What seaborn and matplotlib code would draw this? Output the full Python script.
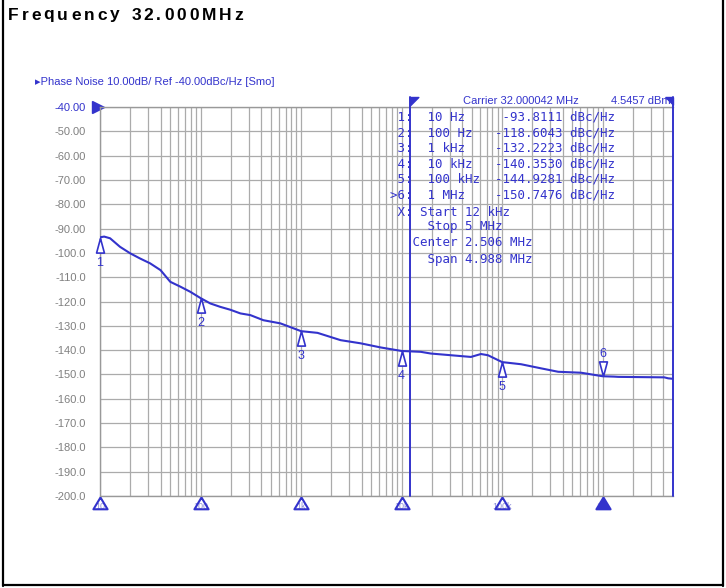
import numpy as np
import pandas as pd
import seaborn as sns
import matplotlib.pyplot as plt
from matplotlib.lines import Line2D
from matplotlib.path import Path
from matplotlib.ticker import LogLocator, NullFormatter, FixedLocator

# Phase noise trace
freq_hz = [10, 11, 12.6, 15.8, 20, 25, 31.5, 40, 50, 63, 79, 100, 125, 157, 198, 249,
           313, 422, 623, 1000, 1457, 2470, 3910, 6190, 10000, 15500, 19500, 30900,
           48900, 61500, 72200, 100000, 154000, 244000, 360000, 611000, 1000000,
           1300000, 1430000, 4100000, 4480000, 5000000]
noise_dbc = [-93.6, -93.3, -94.0, -97.5, -100.2, -102.3, -104.3, -107.1, -111.9, -113.9,
             -116.0, -118.6, -120.8, -122.2, -123.4, -124.9, -125.6, -127.7, -129.0,
             -132.2, -132.9, -135.9, -137.2, -138.9, -140.35, -140.7, -141.4, -142.1,
             -142.8, -141.6, -142.1, -144.93, -145.8, -147.5, -148.9, -149.3, -150.75,
             -150.9, -151.0, -151.2, -151.6, -151.8]

# Markers
marker_freq = [10, 100, 1000, 10000, 100000, 1000000]
marker_freq_label = ["10 Hz", "100 Hz", "1 kHz", "10 kHz", "100 kHz", "1 MHz"]
marker_level = [-93.8111, -118.6043, -132.2223, -140.3530, -144.9281, -150.7476]
bottom_tick_label = ["10", "100", "1k", "10k", "100k", "1M"]

y_ticks = list(range(-40, -201, -10))
span_start, span_stop = 12e3, 5e6

W, H = 726, 588
BLUE = "#3333cc"
GRID = "#ababab"


def px(x, y):
    return x / W, 1 - y / H


sns.set_style("white")
plt.rcParams["font.family"] = ["Liberation Sans", "DejaVu Sans"]

fig = plt.figure(figsize=(W / 100, H / 100), dpi=100)
ax = fig.add_axes([100 / W, 1 - 496 / H, 573 / W, 389 / H])

df = pd.DataFrame({"freq": freq_hz, "level": noise_dbc})
sns.lineplot(data=df, x="freq", y="level", ax=ax, color=BLUE, lw=1.5, zorder=4)

ax.set_xscale("log")
ax.set_xlim(10, 5e6)
ax.set_ylim(-200, -40)
ax.xaxis.set_major_locator(LogLocator(base=10, numticks=20))
ax.xaxis.set_minor_locator(LogLocator(base=10, subs=np.arange(2, 10), numticks=100))
ax.xaxis.set_major_formatter(NullFormatter())
ax.xaxis.set_minor_formatter(NullFormatter())
ax.yaxis.set_major_locator(FixedLocator(y_ticks))
ax.set_yticklabels([f"{v:.2f}" if v > -100 else f"{v:.1f}" for v in y_ticks])
ax.tick_params(axis="both", which="both", length=0)
ax.tick_params(axis="y", labelsize=8, labelcolor="#808080", pad=10)
ax.get_yticklabels()[0].set_color(BLUE)
ax.grid(True, which="both", axis="x", color=GRID, lw=0.9)
ax.grid(True, which="major", axis="y", color=GRID, lw=0.9)
ax.set_xlabel("")
ax.set_ylabel("")
for side in ["left", "top", "bottom"]:
    ax.spines[side].set_color("#999999")
    ax.spines[side].set_linewidth(1.0)
ax.spines["right"].set_visible(False)

# span lines
for f in (span_start, span_stop):
    ax.axvline(f, ymin=0, ymax=1.026, color=BLUE, lw=1.4, clip_on=False, zorder=5)
flag_r = Path([(0, 0), (1, 0), (0, -1), (0, 0)])
flag_l = Path([(0, 0), (-1, 0), (0, -1), (0, 0)])
xt = ax.get_xaxis_transform()
ax.plot([span_start], [1.026], marker=flag_r, ms=12, color=BLUE, transform=xt, clip_on=False)
ax.plot([span_stop], [1.026], marker=flag_l, ms=11, color=BLUE, transform=xt, clip_on=False)

# reference level arrow
ax.plot([-0.004], [1.0], marker=">", ms=9, color=BLUE, transform=ax.transAxes, clip_on=False)

# markers on the trace
tri_up = Path([(0, 0), (-0.27, -1), (0.27, -1), (0, 0)])
tri_dn = Path([(0, 0), (-0.27, 1), (0.27, 1), (0, 0)])
for i, (f, lv) in enumerate(zip(marker_freq, marker_level), start=1):
    if i < 6:
        ax.plot([f], [lv], marker=tri_up, ms=21, mfc="white", mec=BLUE, mew=1.2, zorder=6,
                clip_on=False)
        ax.annotate(str(i), (f, lv), xytext=(0, -18), textcoords="offset points",
                    ha="center", va="center", color=BLUE, fontsize=9)
    else:
        ax.plot([f], [lv], marker=tri_dn, ms=21, mfc="white", mec=BLUE, mew=1.2, zorder=6)
        ax.annotate(str(i), (f, lv), xytext=(0, 16), textcoords="offset points",
                    ha="center", va="center", color=BLUE, fontsize=9)

# marker flags below the x axis
tri_base = Path([(0, 0), (-0.6, -1), (0.6, -1), (0, 0)])
for i, (f, lab) in enumerate(zip(marker_freq, bottom_tick_label), start=1):
    ax.text(f, -0.028, lab, transform=xt, ha="center", va="center", fontsize=6.5,
            color="#7070d0", alpha=0.8, clip_on=False)
    ax.plot([f], [-0.003], marker=tri_base, ms=17, transform=xt, clip_on=False,
            mfc=BLUE if i == 6 else "none", mec=BLUE, mew=1.5, zorder=6)

# header texts
fig.text(*px(35, 82), "\u25b8Phase Noise 10.00dB/ Ref -40.00dBc/Hz [Smo]", color=BLUE,
         fontsize=8, va="center", ha="left", family=["Liberation Sans", "DejaVu Sans"])
fig.text(*px(463, 101), "Carrier 32.000042 MHz", color=BLUE, fontsize=8, va="center")
fig.text(*px(671, 101), "4.5457 dBm", color=BLUE, fontsize=8, va="center", ha="right")

# marker table
rows = []
for i, (lab, lv) in enumerate(zip(marker_freq_label, marker_level), start=1):
    lead = ">" if i == 6 else " "
    rows.append(f"{lead}{i}:  {lab:<9}{lv:>9.4f} dBc/Hz")
rows += [" X: Start 12 kHz", "     Stop 5 MHz", "   Center 2.506 MHz", "     Span 4.988 MHz"]
row_y = [117, 133, 148, 164, 179, 195, 212, 227, 243, 259]
for r, y in zip(rows, row_y):
    fig.text(*px(389.5, y), r, color=BLUE, fontsize=9, va="center", ha="left",
             family="DejaVu Sans Mono")

# letter-spaced title
title = "Frequency 32.000MHz"
kw = dict(fontsize=12.5, fontweight="bold", color="black", va="center", ha="left")
renderer = fig.canvas.get_renderer()
widths = []
for ch in title:
    t = fig.text(0, 0, "n" if ch == " " else ch, **kw)
    w = t.get_window_extent(renderer).width
    t.remove()
    widths.append(w * 0.6 if ch == " " else w)
gap = (235 - sum(widths)) / (len(title) - 1)
xpos = 8
for ch, w in zip(title, widths):
    if ch != " ":
        fig.text(*px(xpos, 15), ch, **kw)
    xpos += w + gap

# outer frame
for xs, ys in [((3, 3), (0, 586)), ((723, 723), (0, 586)), ((3, 723), (585, 585))]:
    fig.add_artist(Line2D([x / W for x in xs], [1 - y / H for y in ys],
                          color="black", lw=1.6, transform=fig.transFigure))

fig.savefig("out.png", dpi=100)
